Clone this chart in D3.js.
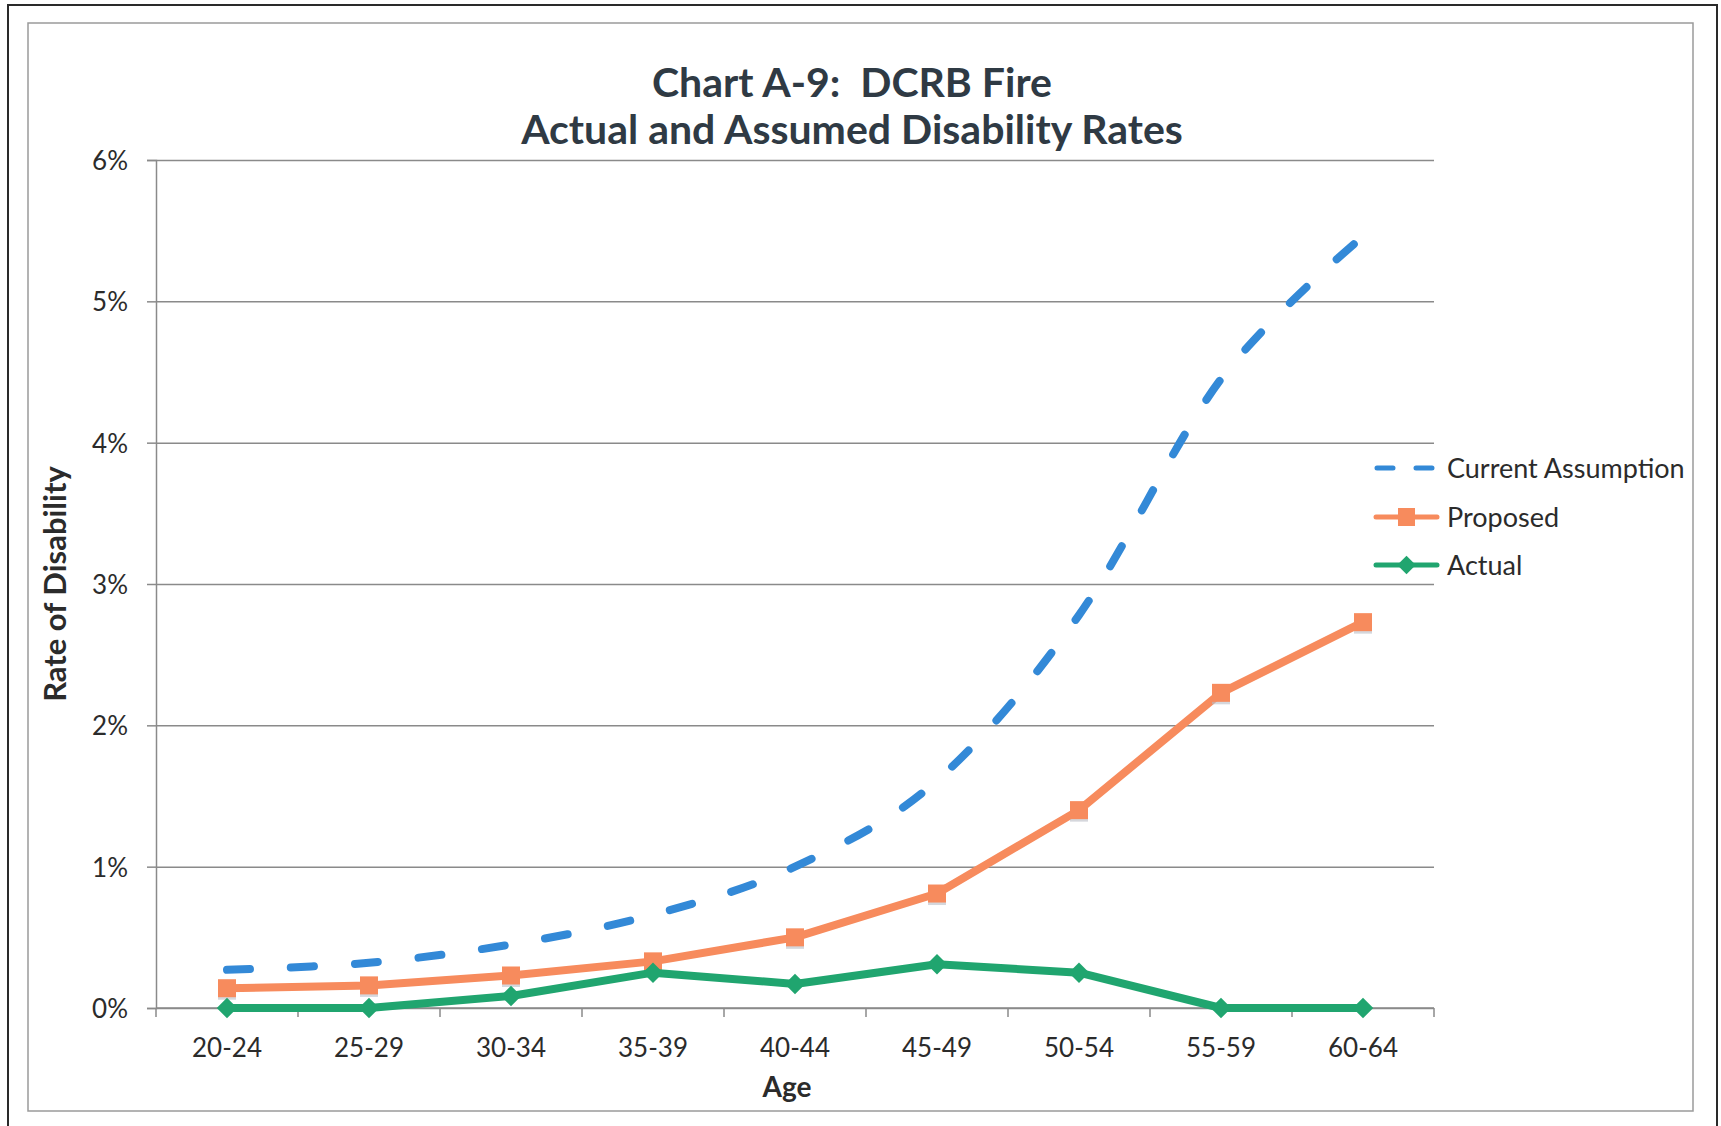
<!DOCTYPE html>
<html>
<head>
<meta charset="utf-8">
<script src="https://cdn.jsdelivr.net/npm/d3@7"></script>
<style>
  html, body { margin: 0; padding: 0; background: #ffffff; }
  svg { display: block; }
  text { font-family: Lato, "Open Sans", sans-serif; white-space: pre; }
</style>
</head>
<body>
<svg id="chart" width="1721" height="1126"></svg>
<script>
// ---- data ----
const categories = ["20-24", "25-29", "30-34", "35-39", "40-44", "45-49", "50-54", "55-59", "60-64"];
const currentAssumption = [0.27, 0.32, 0.45, 0.66, 1.00, 1.61, 2.78, 4.45, 5.46];
const proposed = [0.14, 0.16, 0.23, 0.33, 0.50, 0.81, 1.40, 2.23, 2.73];
const actual = [0.00, 0.00, 0.085, 0.25, 0.17, 0.31, 0.25, 0.00, 0.00];
const yTicks = [0, 1, 2, 3, 4, 5, 6];
const yTickLabels = ["0%", "1%", "2%", "3%", "4%", "5%", "6%"];
const seriesNames = ["Current Assumption", "Proposed", "Actual"];
const titleLines = ["Chart A-9:  DCRB Fire", "Actual and Assumed Disability Rates"];
const xAxisTitle = "Age";
const yAxisTitle = "Rate of Disability";

// ---- layout ----
const plot = { left: 156, right: 1434, top: 160, bottom: 1008 };
const colors = { blue: "#3389d7", orange: "#f78b5d", green: "#20a56f" };

const svg = d3.select("#chart");

// frames
svg.append("rect").attr("x", 8).attr("y", 5).attr("width", 1709).attr("height", 1140)
  .attr("fill", "none").attr("stroke", "#2a2a2a").attr("stroke-width", 2);
svg.append("rect").attr("x", 28).attr("y", 23).attr("width", 1665).attr("height", 1088)
  .attr("fill", "none").attr("stroke", "#9a9a9a").attr("stroke-width", 1.5);

const x = d3.scaleBand().domain(categories).range([plot.left, plot.right]).padding(0);
const y = d3.scaleLinear().domain([0, 6]).range([plot.bottom, plot.top]);
const cx = c => x(c) + x.bandwidth() / 2;

// gridlines + y axis
const yAxis = d3.axisLeft(y).tickValues(yTicks)
  .tickFormat((d, i) => yTickLabels[i]).tickSize(9).tickPadding(19);
const gy = svg.append("g").attr("transform", `translate(${plot.left},0)`).call(yAxis);
gy.select(".domain").attr("stroke", "#8a8a8a").attr("stroke-width", 1.5);
gy.selectAll(".tick line").attr("stroke", "#8a8a8a").attr("stroke-width", 1.5)
  .clone().attr("x1", 0).attr("x2", plot.right - plot.left);
gy.selectAll(".tick text").attr("font-size", 26).attr("fill", "#2b2b2b")
  .attr("font-family", "Lato, sans-serif").attr("dy", "0.36em");

// x axis (labels at category centres, ticks at category boundaries)
const xAxis = d3.axisBottom(x).tickSize(0).tickPadding(46);
const gx = svg.append("g").attr("transform", `translate(0,${plot.bottom})`).call(xAxis);
gx.select(".domain").remove();
gx.selectAll(".tick text").attr("font-size", 26).attr("fill", "#2b2b2b")
  .attr("font-family", "Lato, sans-serif").attr("dy", "0.12em");
svg.append("line").attr("x1", plot.left).attr("x2", plot.right)
  .attr("y1", plot.bottom).attr("y2", plot.bottom)
  .attr("stroke", "#8a8a8a").attr("stroke-width", 1.5);
const boundaries = categories.map(c => x(c)).concat([x(categories[categories.length - 1]) + x.bandwidth()]);
svg.append("g").selectAll("line").data(boundaries).join("line")
  .attr("x1", d => d).attr("x2", d => d)
  .attr("y1", plot.bottom).attr("y2", plot.bottom + 9)
  .attr("stroke", "#8a8a8a").attr("stroke-width", 1.5);

// titles
svg.append("text").attr("x", 852).attr("y", 97).attr("text-anchor", "middle")
  .attr("font-size", 41).attr("font-weight", 700).attr("fill", "#2f3a44").text(titleLines[0]);
svg.append("text").attr("x", 852).attr("y", 144).attr("text-anchor", "middle")
  .attr("font-size", 41).attr("font-weight", 700).attr("fill", "#2f3a44").text(titleLines[1]);
svg.append("text").attr("x", 787).attr("y", 1097).attr("text-anchor", "middle")
  .attr("font-size", 28).attr("font-weight", 700).attr("fill", "#2b2b2b").text(xAxisTitle);
svg.append("text").attr("transform", `translate(66,${(plot.top + plot.bottom) / 2}) rotate(-90)`)
  .attr("text-anchor", "middle")
  .attr("font-size", 31).attr("font-weight", 700).attr("fill", "#2b2b2b").text(yAxisTitle);

// series
const lineSmooth = d3.line().x((d, i) => cx(categories[i])).y(d => y(d)).curve(d3.curveCardinal.tension(0));
const lineStraight = d3.line().x((d, i) => cx(categories[i])).y(d => y(d));

svg.append("path").attr("d", lineSmooth(currentAssumption))
  .attr("fill", "none").attr("stroke", colors.blue).attr("stroke-width", 8)
  .attr("stroke-linecap", "round").attr("stroke-dasharray", "23,41");

svg.append("path").attr("d", lineStraight(proposed))
  .attr("fill", "none").attr("stroke", colors.orange).attr("stroke-width", 8)
  .attr("stroke-linejoin", "round");
// marker shadows
svg.append("g").selectAll("rect").data(proposed).join("rect")
  .attr("x", (d, i) => cx(categories[i]) - 9).attr("y", d => y(d) - 6.5)
  .attr("width", 18).attr("height", 18).attr("fill", "#b9bcc4").attr("opacity", 0.6);
svg.append("g").selectAll("rect").data(proposed).join("rect")
  .attr("x", (d, i) => cx(categories[i]) - 9).attr("y", d => y(d) - 9)
  .attr("width", 18).attr("height", 18).attr("fill", colors.orange);

svg.append("path").attr("d", lineStraight(actual))
  .attr("fill", "none").attr("stroke", colors.green).attr("stroke-width", 8)
  .attr("stroke-linejoin", "round");
svg.append("g").selectAll("path").data(actual).join("path")
  .attr("transform", (d, i) => `translate(${cx(categories[i])},${y(d)}) rotate(45)`)
  .attr("d", d3.symbol().type(d3.symbolSquare).size(210)())
  .attr("fill", colors.green);

// legend
const legendRows = [
  { name: seriesNames[0], color: colors.blue, y: 468, type: "dash" },
  { name: seriesNames[1], color: colors.orange, y: 517, type: "square" },
  { name: seriesNames[2], color: colors.green, y: 565, type: "diamond" }
];
const lg = svg.append("g");
legendRows.forEach(r => {
  const g = lg.append("g");
  if (r.type === "dash") {
    g.append("line").attr("x1", 1377).attr("x2", 1436).attr("y1", r.y).attr("y2", r.y)
      .attr("stroke", r.color).attr("stroke-width", 5).attr("stroke-linecap", "round")
      .attr("stroke-dasharray", "16,23");
  } else {
    g.append("line").attr("x1", 1376).attr("x2", 1437).attr("y1", r.y).attr("y2", r.y)
      .attr("stroke", r.color).attr("stroke-width", 5).attr("stroke-linecap", "round");
    if (r.type === "square") {
      g.append("rect").attr("x", 1406.5 - 8.5).attr("y", r.y - 9).attr("width", 17).attr("height", 18)
        .attr("fill", r.color);
    } else {
      g.append("path").attr("transform", `translate(1406.5,${r.y}) rotate(45)`)
        .attr("d", d3.symbol().type(d3.symbolSquare).size(170)()).attr("fill", r.color);
    }
  }
  g.append("text").attr("x", 1447).attr("y", r.y).attr("dy", "0.36em")
    .attr("font-size", 27).attr("fill", "#2b2b2b").text(r.name);
});
</script>
</body>
</html>
